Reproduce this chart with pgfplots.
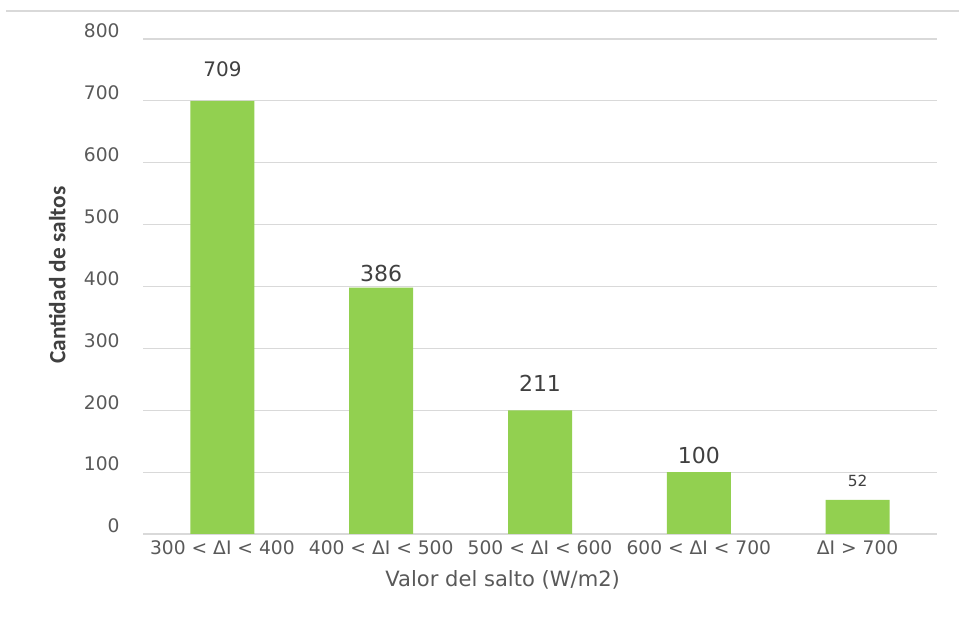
\documentclass[border=0pt]{standalone}
\usepackage{pgfplots}
\pgfplotsset{compat=1.18}
\usepackage{fontspec}
\setmainfont{DejaVu Sans}
\newfontfamily\labfont{Carlito}
\definecolor{barra}{HTML}{92D050}
\definecolor{rejilla}{HTML}{D9D9D9}
\definecolor{texto}{HTML}{595959}
\definecolor{oscuro}{HTML}{404040}
\begin{document}
\begin{tikzpicture}
	\useasboundingbox (0,0) rectangle (719.25pt,462.75pt);
	\draw[rejilla, line width=0.8pt] (4.5pt,454.5pt) -- (719.25pt,454.5pt);
	\begin{axis}[
			at={(107.25pt,62.25pt)},
			anchor=south west,
			scale only axis,
			width=595.5pt,
			height=371.25pt,
			ymin=0, ymax=800,
			xmin=-0.5, xmax=4.5,
			ytick={0,100,...,800},
			xtick=data,
			xticklabels={300 < ΔI < 400, 400 < ΔI < 500, 500 < ΔI < 600, 600 < ΔI < 700, ΔI > 700},
			ybar,
			bar width=48pt,
			axis line style={draw=none},
			tick style={draw=none},
			ymajorgrids,
			grid style={rejilla, line width=0.9pt},
			/pgf/number format/assume math mode=true,
			ticklabel style={font=\fontsize{14}{16}\selectfont, text=texto},
			yticklabel style={xshift=-14pt, yshift=6pt},
			xticklabel style={yshift=3pt},
			xlabel={Valor del salto (W/m2)},
			xlabel style={at={(axis description cs:0.453,-0.093)}, anchor=center,
				font=\fontsize{15.8}{19}\selectfont, text=texto},
			ylabel={Cantidad de saltos},
			ylabel style={at={(axis description cs:-0.108,0.523)}, anchor=center,
				font=\labfont\bfseries\fontsize{17.5}{20}\selectfont, text=oscuro},
			point meta=explicit symbolic,
			nodes near coords,
			nodes near coords style={anchor=south, inner sep=0pt, text=oscuro},
		]
		\addplot [draw=none, fill=barra]
		coordinates {
			(0,700) [\fontsize{15}{18}\selectfont\raisebox{18pt}{709}]
			(1,398) [\fontsize{16.5}{19}\selectfont\raisebox{4.5pt}{386}]
			(2,200) [\fontsize{16.5}{19}\selectfont\raisebox{14pt}{211}]
			(3,100) [\fontsize{16.5}{19}\selectfont\raisebox{6pt}{100}]
			(4,55) [\fontsize{11.5}{14}\selectfont\raisebox{10pt}{52}]
		};
	\end{axis}
\end{tikzpicture}
\end{document}
